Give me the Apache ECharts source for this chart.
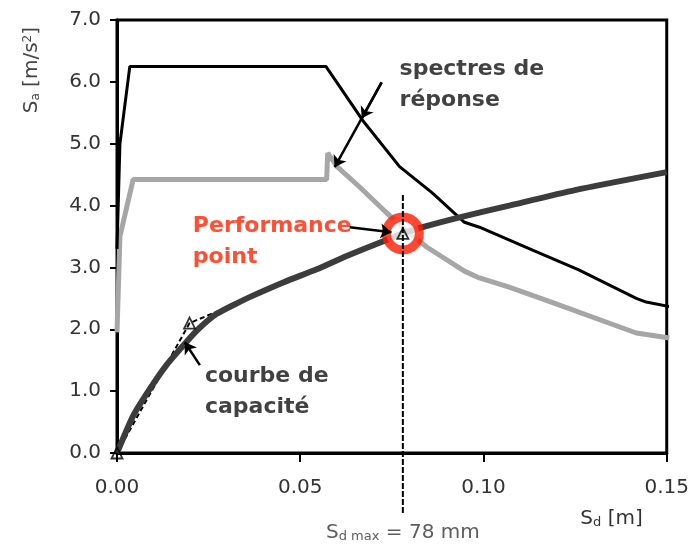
<!DOCTYPE html>
<html><head><meta charset="utf-8">
<script src="https://cdn.jsdelivr.net/npm/echarts@6/dist/echarts.min.js"></script>
<style>html,body{margin:0;padding:0;background:#fff}#c{width:692px;height:551px}</style>
</head><body><div id="c"></div>
<script>
// ---- data ----
const xAxisRange = [0, 0.15];
const xInterval = 0.05;
const yAxisRange = [0, 7];
const yInterval = 1;

// upper response spectrum (black)
const spec1Sd = [0, 0.0008, 0.0035, 0.057, 0.067, 0.0771, 0.0861, 0.0948, 0.0989, 0.1134, 0.126, 0.1417, 0.1444, 0.1515];
const spec1Sa = [3.3, 5.0, 6.25, 6.25, 5.38, 4.63, 4.2, 3.73, 3.65, 3.28, 2.96, 2.5, 2.44, 2.36];
// lower response spectrum (grey)
const spec2Sd = [0, 0.0008, 0.0044, 0.0572, 0.0575, 0.0602, 0.0662, 0.0736, 0.079, 0.0845, 0.0948, 0.0989, 0.107, 0.117, 0.1417, 0.1507];
const spec2Sa = [1.95, 3.5, 4.42, 4.42, 4.85, 4.62, 4.3, 3.88, 3.6, 3.33, 2.94, 2.83, 2.68, 2.47, 1.94, 1.86];
// capacity curve
const capSd = [0, 0.0044, 0.009, 0.0136, 0.019, 0.0225, 0.0272, 0.0327, 0.0362, 0.0455, 0.0545, 0.0625, 0.0725, 0.078, 0.0839, 0.0935, 0.107, 0.125, 0.15];
const capSa = [0, 0.6, 1.04, 1.43, 1.8, 2.02, 2.25, 2.42, 2.52, 2.76, 2.97, 3.18, 3.42, 3.55, 3.66, 3.81, 4.0, 4.25, 4.54];
// bilinear idealisation (dashed) and its triangle markers
const biSd = [0, 0.0198, 0.078];
const biSa = [0, 2.1, 3.55];
// performance point
const perfSd = 0.078;
const perfSa = 3.55;
// vertical Sd,max line extent
const sdMaxLineSa = [4.17, -0.97];
const sdMaxText = '{s|S}{sub|d max}{n| = 78 mm}';

// annotation texts and anchors [Sd, Sa]
const annTexts = ['spectres de\nréponse', 'Performance\npoint', 'courbe de\ncapacité'];
const annAnchors = [[0.0771, 5.96], [0.0207, 3.42], [0.024, 0.985]];
const annColors = ['#111111', '#ff2200', '#111111'];
// arrows: [from, to]
const arrows = [
  [[0.0722, 5.99], [0.0668, 5.41]],
  [[0.0722, 5.99], [0.0594, 4.62]],
  [[0.0635, 3.65], [0.0749, 3.57]],
  [[0.0226, 1.42], [0.0185, 1.79]]
];

const zip = (a, b) => a.map((v, i) => [v, b[i]]);
const FONT = 'DejaVu Sans';
const TXT = '#333';

const chart = echarts.init(document.getElementById('c'), null, {renderer: 'canvas'});
chart.setOption({
  animation: false,
  backgroundColor: '#fff',
  grid: {left: 117, right: 25, top: 20, bottom: 98, show: true, borderColor: '#000', borderWidth: 3, containLabel: false},
  xAxis: {
    type: 'value', min: xAxisRange[0], max: xAxisRange[1], interval: xInterval,
    axisLine: {onZero: false, lineStyle: {color: '#000', width: 3}},
    axisTick: {show: true, inside: false, length: 9, lineStyle: {color: '#000', width: 2}},
    axisLabel: {margin: 25, color: TXT, fontFamily: FONT, fontSize: 20, formatter: v => v.toFixed(2)},
    splitLine: {show: false},
    name: '{s|S}{sub|d}{n| [m]}',
    nameLocation: 'end', nameGap: -24,
    nameTextStyle: {align: 'right', verticalAlign: 'top', padding: [56, 0, 0, 0],
      rich: {s: {fontFamily: FONT, fontSize: 20, color: TXT}, sub: {fontFamily: FONT, fontSize: 13, color: TXT, verticalAlign: 'bottom'}, n: {fontFamily: FONT, fontSize: 20, color: TXT}}}
  },
  yAxis: {
    type: 'value', min: yAxisRange[0], max: yAxisRange[1], interval: yInterval,
    axisLine: {onZero: false, lineStyle: {color: '#000', width: 3}},
    axisTick: {show: true, inside: false, length: 7, lineStyle: {color: '#000', width: 2}},
    axisLabel: {margin: 16, color: TXT, fontFamily: FONT, fontSize: 20, formatter: v => v.toFixed(1)},
    splitLine: {show: false},
    name: '{s|S}{sub|a}{n| [m/s}{sup|2}{n|]}',
    nameLocation: 'end', nameGap: -7, nameRotate: 90,
    nameTextStyle: {align: 'right', verticalAlign: 'bottom', padding: [0, 0, 75, 0],
      rich: {s: {fontFamily: FONT, fontSize: 20, color: '#444'}, sub: {fontFamily: FONT, fontSize: 12, color: '#444', verticalAlign: 'bottom'}, sup: {fontFamily: FONT, fontSize: 12, color: '#444', verticalAlign: 'top'}, n: {fontFamily: FONT, fontSize: 20, color: '#444'}}}
  },
  series: [
    {type: 'line', data: zip(spec2Sd, spec2Sa), symbol: 'none', lineStyle: {color: '#a6a6a6', width: 5}, z: 2},
    {type: 'line', data: zip(spec1Sd, spec1Sa), symbol: 'none', lineStyle: {color: '#000', width: 3}, z: 3},
    {type: 'line', data: zip(biSd, biSa), symbol: 'none', lineStyle: {color: '#000', width: 2, type: [5, 3]}, z: 4},
    {type: 'line', data: zip(capSd, capSa), symbol: 'none', smooth: 0.2, lineStyle: {color: '#3c3c3c', width: 6}, z: 5},
    {type: 'scatter', data: [[perfSd, perfSa]], symbol: 'circle', symbolSize: 33,
      itemStyle: {color: '#fff', borderColor: '#ff1a00', borderWidth: 9}, z: 6, silent: true},
    {type: 'line', data: [[perfSd, sdMaxLineSa[0]], [perfSd, sdMaxLineSa[1]]], symbol: 'none', clip: false,
      lineStyle: {color: '#000', width: 2, type: [6, 2]}, z: 7},
    {type: 'scatter', data: zip(biSd, biSa), symbol: 'triangle', symbolSize: 11, clip: false,
      itemStyle: {color: 'rgba(255,255,255,0)', borderColor: '#000', borderWidth: 1.8}, z: 8},
    {type: 'scatter', data: [[perfSd, sdMaxLineSa[1]]], symbolSize: 0, clip: false, z: 8,
      label: {show: true, position: 'bottom', distance: 10, formatter: sdMaxText,
        rich: {s: {fontFamily: FONT, fontSize: 20, color: TXT}, sub: {fontFamily: FONT, fontSize: 13, color: TXT, verticalAlign: 'bottom'}, n: {fontFamily: FONT, fontSize: 20, color: TXT}}}},
    {type: 'scatter', symbolSize: 0, clip: false, z: 9,
      data: annAnchors.map((p, i) => ({value: p, name: annTexts[i], label: {color: annColors[i]}})),
      label: {show: true, position: 'right', distance: 0, align: 'left', verticalAlign: 'middle',
        color: '#111', fontFamily: FONT, fontSize: 22, fontWeight: 'bold', lineHeight: 31,
        formatter: p => p.name}},
    {type: 'lines', coordinateSystem: 'cartesian2d', z: 10,
      symbol: ['none', 'arrow'], symbolSize: [0, 11],
      lineStyle: {color: '#000', width: 2.5, opacity: 1, curveness: 0},
      data: arrows.map(a => ({coords: a}))}
  ]
});
</script></body></html>
